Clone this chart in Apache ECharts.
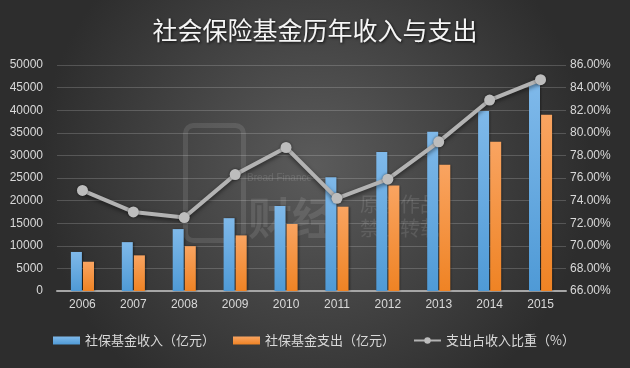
<!DOCTYPE html>
<html><head><meta charset="utf-8">
<script src="https://cdn.jsdelivr.net/npm/echarts@6/dist/echarts.min.js"></script>
<style>html,body{margin:0;padding:0;background:#3a3a3a}#c{width:630px;height:368px}</style>
</head><body><div id="c"></div>
<script>
const titleText = '社会保险基金历年收入与支出';
const years = ['2006','2007','2008','2009','2010','2011','2012','2013','2014','2015'];
const income = [8643,10812,13696,16116,18823,25153,30739,35253,39828,46012];
const expense = [6477,7888,9925,12303,14819,18653,23331,27916,33003,38988];
const ratio = [74.9,73.0,72.5,76.3,78.7,74.2,75.9,79.2,82.9,84.7];
const names = ['社保基金收入（亿元）','社保基金支出（亿元）','支出占收入比重（%）'];

const font = '"Noto Sans CJK SC","Microsoft YaHei",sans-serif';
const txt = '#d9d9d9';
const chart = echarts.init(document.getElementById('c'), null, {renderer:'canvas'});
chart.setOption({
  animation:false,
  backgroundColor:{type:'radial',x:0.5,y:0.45,r:0.75,colorStops:[{offset:0,color:'#5b5b5b'},{offset:1,color:'#2d2d2d'}]},
  title:{text:titleText,left:'center',top:13,textStyle:{color:'#f5f5f5',fontSize:25,fontWeight:'normal',fontFamily:font,textShadowColor:'rgba(0,0,0,0.8)',textShadowBlur:3,textShadowOffsetX:1,textShadowOffsetY:1}},
  graphic:[
    {type:'rect',left:183,top:123,shape:{width:58,height:115,r:8},style:{fill:'none',stroke:'rgba(255,255,255,0.1)',lineWidth:5},silent:true,z:0},
    {type:'text',left:247,top:173,style:{text:'Bread Finance',fill:'rgba(255,255,255,0.13)',font:'10px Arial'},silent:true,z:0},
    {type:'text',left:248,top:196,style:{text:'财经',fill:'rgba(255,255,255,0.1)',font:'bold 44px '+font},silent:true,z:0},
    {type:'text',left:360,top:194,style:{text:'原创作品',fill:'rgba(255,255,255,0.11)',font:'20px '+font},silent:true,z:0},
    {type:'text',left:360,top:218,style:{text:'禁止转载',fill:'rgba(255,255,255,0.11)',font:'20px '+font},silent:true,z:0}
  ],
  legend:{bottom:16,left:48,itemGap:18,itemWidth:27,itemHeight:8,textStyle:{color:txt,fontSize:13,fontFamily:font},
    data:[{name:names[0],icon:'rect'},{name:names[1],icon:'rect'},{name:names[2]}]},
  grid:{left:57,right:64,top:65,bottom:77},
  xAxis:{type:'category',data:years,axisTick:{show:false},
    axisLine:{lineStyle:{color:'#a6a6a6',width:2}},
    axisLabel:{color:txt,fontSize:12,margin:8,fontFamily:'Liberation Sans, Arial'}},
  yAxis:[
    {type:'value',min:0,max:50000,interval:5000,
     axisLabel:{color:txt,fontSize:12,margin:14,fontFamily:'Liberation Sans, Arial',formatter:v=>String(v)},
     splitLine:{lineStyle:{color:'rgba(255,255,255,0.18)',width:1}},axisLine:{show:false},axisTick:{show:false}},
    {type:'value',min:66,max:86,interval:2,
     axisLabel:{color:txt,fontSize:12,margin:4,fontFamily:'Liberation Sans, Arial',formatter:v=>v.toFixed(2)+'%'},
     splitLine:{show:false},axisLine:{show:false},axisTick:{show:false}}
  ],
  series:[
    {name:names[0],type:'bar',data:income,barWidth:11,barGap:'10%',
     itemStyle:{color:{type:'linear',x:0,y:0,x2:0,y2:1,colorStops:[{offset:0,color:'#7fb9ea'},{offset:1,color:'#4f9ad6'}]},shadowColor:'rgba(0,0,0,0.4)',shadowBlur:2,shadowOffsetX:1}},
    {name:names[1],type:'bar',data:expense,barWidth:11,
     itemStyle:{color:{type:'linear',x:0,y:0,x2:0,y2:1,colorStops:[{offset:0,color:'#f9a461'},{offset:1,color:'#ef8324'}]},shadowColor:'rgba(0,0,0,0.4)',shadowBlur:2,shadowOffsetX:1}},
    {name:names[2],type:'line',yAxisIndex:1,data:ratio,symbol:'circle',symbolSize:11,
     lineStyle:{color:'#b3b3b3',width:4,shadowColor:'rgba(0,0,0,0.5)',shadowBlur:4,shadowOffsetY:2},
     itemStyle:{color:'#bdbdbd',shadowColor:'rgba(0,0,0,0.5)',shadowBlur:3},z:5}
  ]
});
</script></body></html>
